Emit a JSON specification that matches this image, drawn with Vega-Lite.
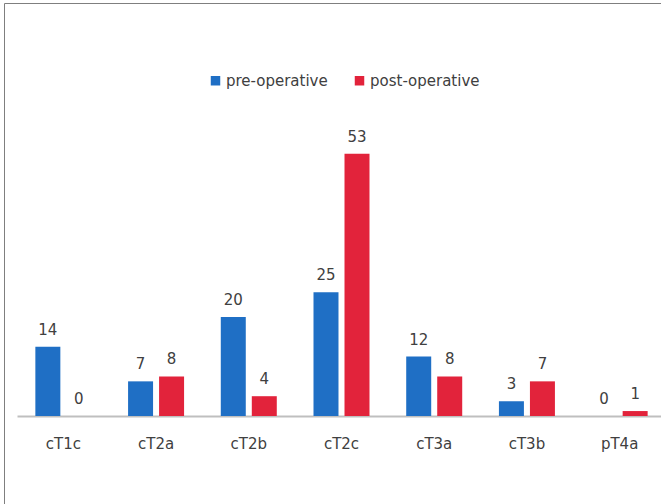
{
  "$schema": "https://vega.github.io/schema/vega-lite/v6.json",
  "autosize": {"type": "none"},
  "padding": {"left": 4, "top": 3, "right": 0, "bottom": 0},
  "width": 657,
  "height": 503,
  "background": "white",
  "config": {"view": {"stroke": "#7f7f7f", "strokeWidth": 1}, "font": "DejaVu Sans"},
  "data": {
    "values": [
      {"stage": "cT1c", "phase": "pre-operative", "count": 14},
      {"stage": "cT1c", "phase": "post-operative", "count": 0},
      {"stage": "cT2a", "phase": "pre-operative", "count": 7},
      {"stage": "cT2a", "phase": "post-operative", "count": 8},
      {"stage": "cT2b", "phase": "pre-operative", "count": 20},
      {"stage": "cT2b", "phase": "post-operative", "count": 4},
      {"stage": "cT2c", "phase": "pre-operative", "count": 25},
      {"stage": "cT2c", "phase": "post-operative", "count": 53},
      {"stage": "cT3a", "phase": "pre-operative", "count": 12},
      {"stage": "cT3a", "phase": "post-operative", "count": 8},
      {"stage": "cT3b", "phase": "pre-operative", "count": 3},
      {"stage": "cT3b", "phase": "post-operative", "count": 7},
      {"stage": "pT4a", "phase": "pre-operative", "count": 0},
      {"stage": "pT4a", "phase": "post-operative", "count": 1}
    ]
  },
  "encoding": {
    "x": {
      "field": "stage", "type": "nominal",
      "sort": ["cT1c", "cT2a", "cT2b", "cT2c", "cT3a", "cT3b", "pT4a"],
      "scale": {"range": [13, 662], "paddingInner": 0.396, "paddingOuter": 0.198},
      "axis": {
        "title": null, "labelAngle": 0, "ticks": false,
        "domainColor": "#bfbfbf", "domainWidth": 2,
        "labelFont": "DejaVu Sans", "labelFontSize": 15, "labelColor": "#404040",
        "labelPadding": 20, "offset": -90
      }
    },
    "xOffset": {
      "field": "phase", "type": "nominal",
      "sort": ["pre-operative", "post-operative"],
      "scale": {"paddingInner": 0.194, "paddingOuter": 0}
    },
    "y": {
      "field": "count", "type": "quantitative",
      "scale": {"domain": [0, 60], "range": [413, 116]},
      "axis": null
    }
  },
  "layer": [
    {
      "mark": {"type": "bar"},
      "encoding": {
        "color": {
          "field": "phase", "type": "nominal",
          "scale": {"domain": ["pre-operative", "post-operative"], "range": ["#1F6FC5", "#E2233B"]},
          "legend": {
            "title": null, "orient": "none", "legendX": 204, "legendY": 70,
            "direction": "horizontal", "symbolType": "square", "symbolSize": 90,
            "symbolStrokeWidth": 0, "labelFont": "DejaVu Sans", "labelFontSize": 15,
            "labelColor": "#404040", "labelOffset": 3, "columnPadding": 24, "labelLimit": 300
          }
        }
      }
    },
    {
      "mark": {"type": "text", "dy": -17, "baseline": "middle", "fontSize": 15, "color": "#404040", "font": "DejaVu Sans"},
      "encoding": {"text": {"field": "count", "type": "quantitative"}}
    }
  ]
}
